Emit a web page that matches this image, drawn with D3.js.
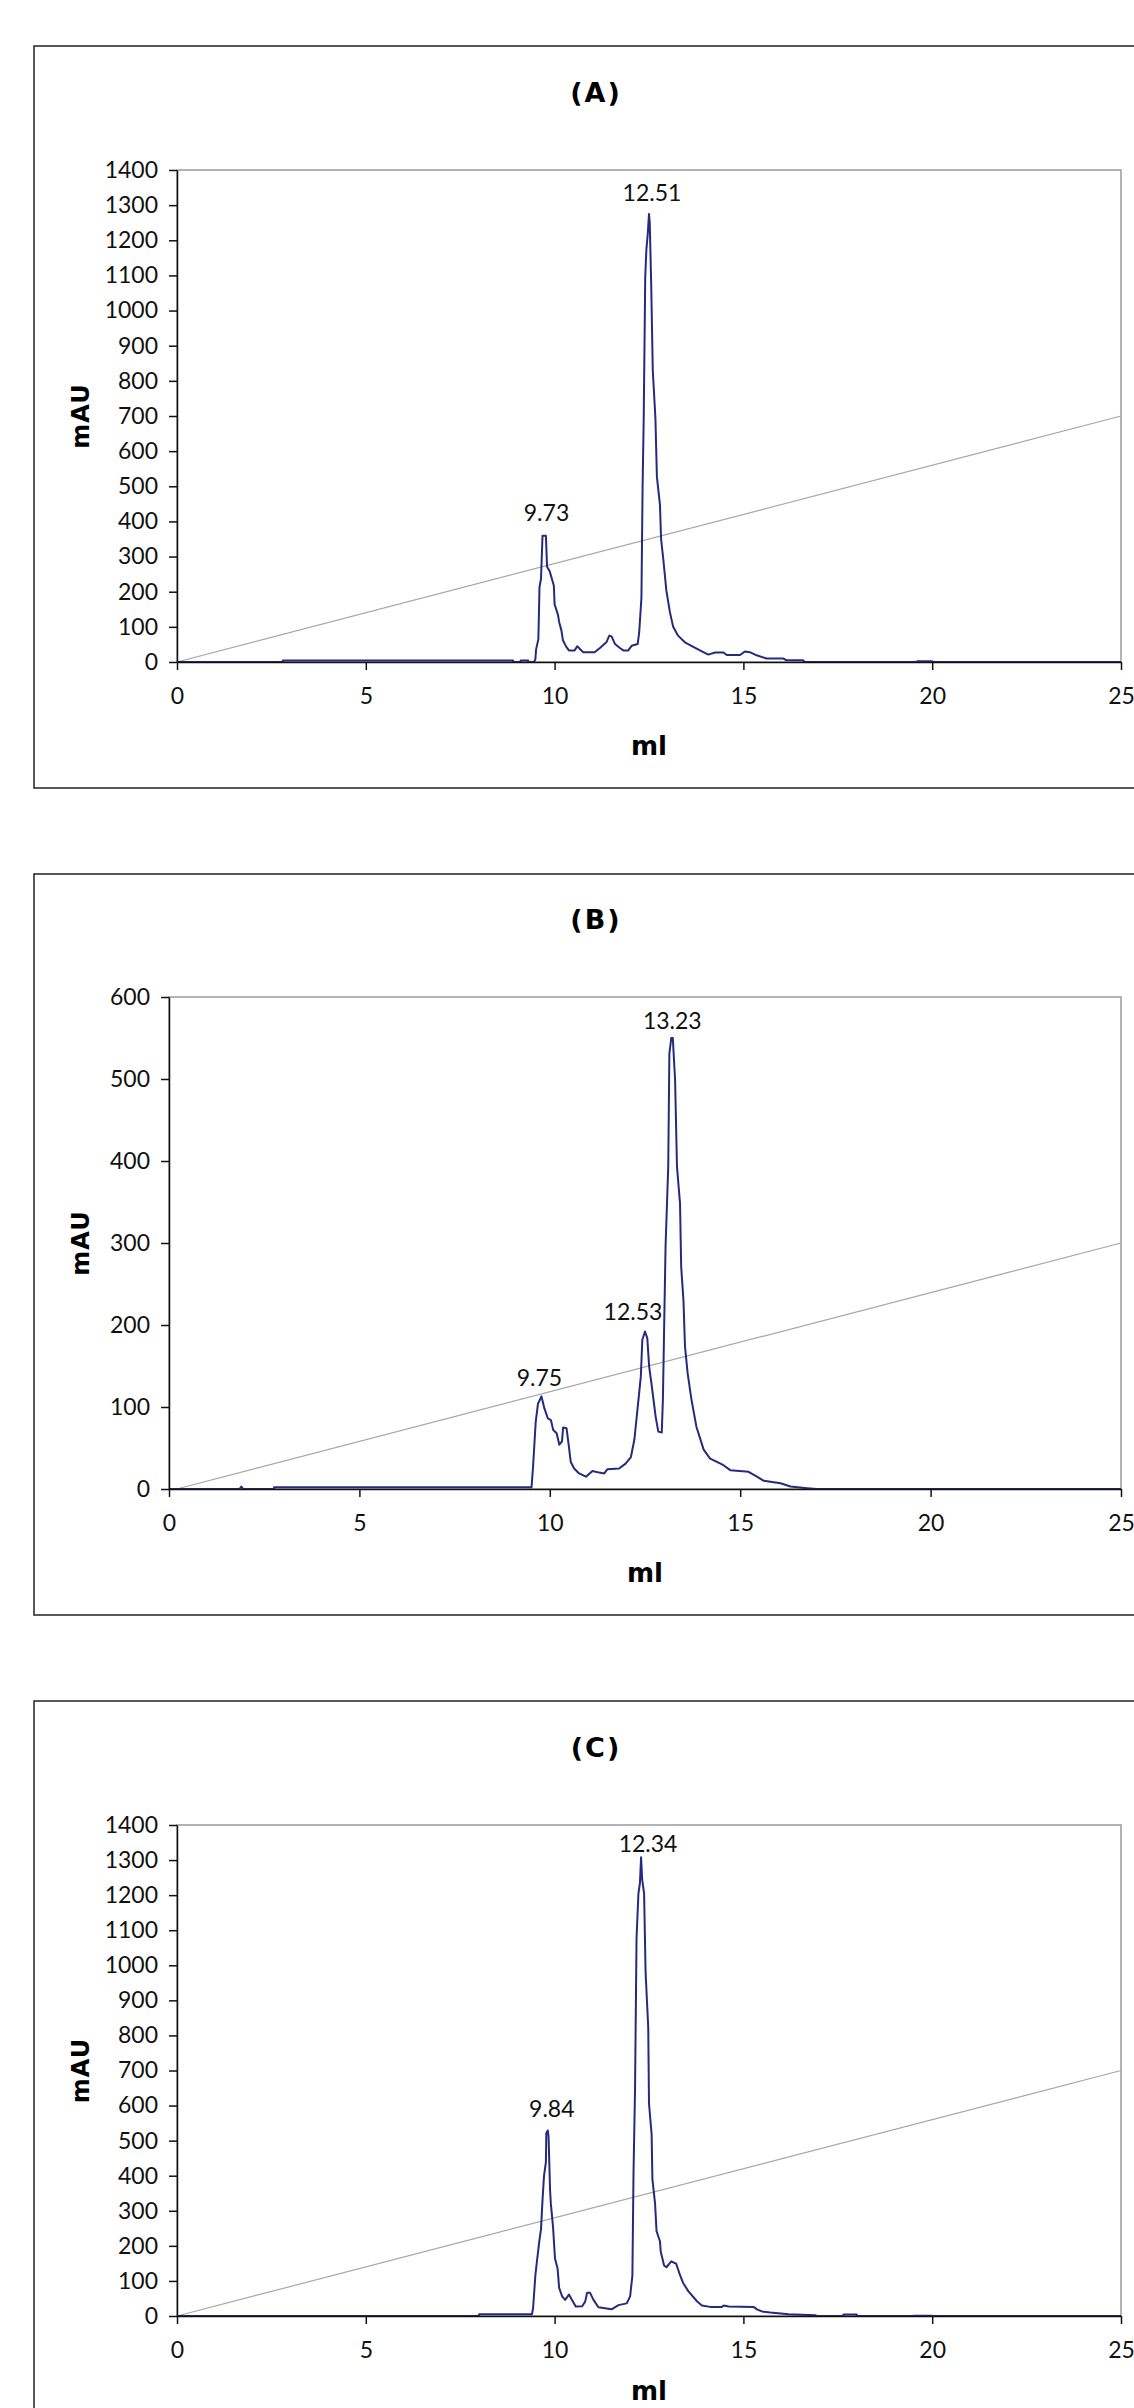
<!DOCTYPE html>
<html>
<head>
<meta charset="utf-8">
<script src="https://cdn.jsdelivr.net/npm/d3@7"></script>
<style>
  html, body { margin: 0; padding: 0; background: #fff; }
  svg { display: block; }
</style>
</head>
<body>
<svg id="chart" width="1134" height="2408"></svg>
<script>
// ---------------- DATA ----------------
const panelTitles = ["(A)", "(B)", "(C)"];
const xTicks = [0, 5, 10, 15, 20, 25];
const yTicksA = [0, 100, 200, 300, 400, 500, 600, 700, 800, 900, 1000, 1100, 1200, 1300, 1400];
const yTicksB = [0, 100, 200, 300, 400, 500, 600];
const yTicksC = [0, 100, 200, 300, 400, 500, 600, 700, 800, 900, 1000, 1100, 1200, 1300, 1400];

// Chromatogram A (ml, mAU)
const volA = [0,2.8,2.8,8.9,8.9,9.1,9.1,9.3,9.3,9.45,9.49,9.51,9.57,9.6,9.64,9.68,9.77,9.8,9.87,9.98,10.0,10.09,10.12,10.18,10.22,10.31,10.38,10.53,10.6,10.67,10.76,11.06,11.2,11.37,11.45,11.51,11.6,11.73,11.82,11.95,12.04,12.2,12.24,12.3,12.33,12.36,12.4,12.43,12.47,12.5,12.52,12.56,12.6,12.67,12.71,12.79,12.82,12.88,12.96,13.05,13.14,13.27,13.45,13.71,13.85,14.07,14.25,14.47,14.56,14.91,15.04,15.17,15.35,15.61,16.05,16.14,16.58,16.62,19.6,19.6,20.0,20.0,25];
const mauA = [0,0,4,4,0,0,4,4,0,0,7,36,65,213,237,359,359,271,258,217,164,134,114,90,62,43,33,33,45,37,28,28,40,56,75,73,51,40,33,33,46,51,84,183,496,693,1094,1173,1222,1275,1250,1065,830,693,526,448,350,291,203,144,100,75,56,41,33,21,27,27,20,20,30,28,19,10,10,5,5,0,0,2,2,0,0];
const gradVolA = [0, 25];
const gradMauA = [0, 700];
const peakLabelsA = ["9.73", "12.51"];

// Chromatogram B
const volB = [0,1.85,1.9,1.95,2.76,2.76,9.52,9.56,9.63,9.69,9.78,9.86,9.95,10.03,10.09,10.18,10.25,10.32,10.35,10.44,10.49,10.55,10.64,10.77,10.95,11.12,11.3,11.43,11.51,11.82,11.99,12.13,12.22,12.3,12.39,12.43,12.5,12.56,12.61,12.68,12.78,12.85,12.94,12.97,13.0,13.04,13.11,13.14,13.19,13.23,13.29,13.34,13.42,13.45,13.51,13.55,13.62,13.72,13.85,14.04,14.21,14.39,14.56,14.74,15.22,15.44,15.62,16.06,16.32,16.76,17.0,25];
const mauB = [0,0,3,0,0,2,2,27,82,104,113,98,86,84,72,68,54,58,75,74,56,33,25,19,15,22,20,19,24,25,31,39,60,96,137,182,192,184,149,125,88,70,69,109,190,296,393,531,550,550,499,393,348,271,230,174,141,109,76,48,37,33,29,23,21,15,10,7,3,1,0,0];
const gradVolB = [0.2, 25];
const gradMauB = [0, 300];
const peakLabelsB = ["9.75", "12.53", "13.23"];

// Chromatogram C
const volC = [0,8.0,8.0,9.4,9.43,9.49,9.53,9.6,9.64,9.68,9.72,9.77,9.78,9.82,9.84,9.88,9.9,9.96,10.01,10.08,10.12,10.2,10.28,10.38,10.45,10.56,10.73,10.81,10.86,10.94,11.03,11.16,11.51,11.69,11.91,12.0,12.06,12.09,12.13,12.17,12.22,12.26,12.29,12.32,12.37,12.41,12.48,12.5,12.57,12.59,12.66,12.7,12.79,12.81,12.9,12.96,13.09,13.22,13.31,13.4,13.54,13.77,13.9,14.12,14.43,14.48,14.61,15.27,15.36,15.49,15.71,16.2,16.9,16.95,17.65,17.65,18.0,18.0,19.5,19.5,20.0,20.0,25];
const mauC = [0,0,5,5,22,115,154,218,247,331,400,439,522,529,512,360,321,252,164,135,80,56,46,61,48,27,28,41,66,66,46,25,19,31,36,56,115,409,645,1077,1205,1234,1308,1244,1205,979,822,606,517,390,321,242,213,184,144,139,156,149,120,95,71,42,30,26,26,30,27,26,19,13,10,5,2,0,0,4,4,0,0,1,1,0,0];
const gradVolC = [0, 25];
const gradMauC = [0, 700];
const peakLabelsC = ["9.84", "12.34"];

// ---------------- LAYOUT / STYLE ----------------
const panels = [
  { title: panelTitles[0], vol: volA, mau: mauA, gv: gradVolA, gm: gradMauA, ticks: yTicksA, labels: peakLabelsA,
    frame: {x: 34, y: 46, h: 742}, plot: {l: 177, r: 1121, t: 170, b: 662},
    labelOff: [[4, 15], [3, 13]] },
  { title: panelTitles[1], vol: volB, mau: mauB, gv: gradVolB, gm: gradMauB, ticks: yTicksB, labels: peakLabelsB,
    frame: {x: 34, y: 874, h: 741}, plot: {l: 169, r: 1121, t: 997, b: 1489},
    labelOff: [[-2, 10], [-12, 12], [1, 9]] },
  { title: panelTitles[2], vol: volC, mau: mauC, gv: gradVolC, gm: gradMauC, ticks: yTicksC, labels: peakLabelsC,
    frame: {x: 34, y: 1701, h: 742}, plot: {l: 177, r: 1121, t: 1825, b: 2316},
    labelOff: [[4, 13], [7, 5]] }
];

const svg = d3.select("#chart");
svg.append("rect").attr("width", 1134).attr("height", 2408).attr("fill", "#fff");

const tickFont = "Lato, 'Open Sans', sans-serif";
const boldFont = "'DejaVu Sans', sans-serif";

panels.forEach(p => {
  // outer frame (extends beyond right edge of page)
  svg.append("rect")
    .attr("x", p.frame.x).attr("y", p.frame.y)
    .attr("width", 1200).attr("height", p.frame.h)
    .attr("fill", "none").attr("stroke", "#222").attr("stroke-width", 1.5);

  const x = d3.scaleLinear().domain([0, 25]).range([p.plot.l, p.plot.r]);
  const ymax = p.ticks[p.ticks.length - 1];
  const y = d3.scaleLinear().domain([0, ymax]).range([p.plot.b, p.plot.t]);

  // plot-area border (gray)
  svg.append("rect")
    .attr("x", p.plot.l).attr("y", p.plot.t)
    .attr("width", p.plot.r - p.plot.l).attr("height", p.plot.b - p.plot.t)
    .attr("fill", "none").attr("stroke", "#9a9a9a").attr("stroke-width", 1.5);

  // gradient line
  const gpts = p.gv.map((v, i) => [v, p.gm[i]]);
  svg.append("path")
    .attr("d", d3.line().x(d => x(d[0])).y(d => y(d[1]))(gpts))
    .attr("fill", "none").attr("stroke", "#a6a6a6").attr("stroke-width", 1.2);

  // chromatogram
  const pts = p.vol.map((v, i) => [v, p.mau[i]]);
  svg.append("path")
    .attr("d", d3.line().x(d => x(d[0])).y(d => y(d[1]))(pts))
    .attr("fill", "none").attr("stroke", "#252a7c").attr("stroke-width", 2)
    .attr("stroke-linejoin", "round");

  // axes
  const yAxis = svg.append("g")
    .attr("transform", `translate(${p.plot.l},0)`)
    .call(d3.axisLeft(y).tickValues(p.ticks).tickSize(8).tickSizeOuter(0).tickPadding(11).tickFormat(d3.format("d")));
  const xAxis = svg.append("g")
    .attr("transform", `translate(0,${p.plot.b})`)
    .call(d3.axisBottom(x).tickValues(xTicks).tickSize(8).tickSizeOuter(0).tickPadding(18).tickFormat(d3.format("d")));
  [yAxis, xAxis].forEach(g => {
    g.selectAll("path.domain").attr("stroke", "#111").attr("stroke-width", 1.5);
    g.selectAll(".tick line").attr("stroke", "#111").attr("stroke-width", 1.5);
    g.selectAll(".tick text").attr("font-family", tickFont).attr("font-size", 23).attr("fill", "#111");
  });

  // peak labels
  p.labels.forEach((lab, i) => {
    const v = parseFloat(lab);
    let best = null;
    pts.forEach(d => { if (Math.abs(d[0] - v) <= 0.3 && (!best || d[1] > best[1])) best = d; });
    const [dx, gap] = p.labelOff[i];
    svg.append("text")
      .attr("x", x(best[0]) + dx).attr("y", y(best[1]) - gap)
      .attr("text-anchor", "middle")
      .attr("font-family", tickFont).attr("font-size", 23).attr("fill", "#111")
      .text(lab);
  });

  // title
  const cx = (p.plot.l + p.plot.r) / 2;
  svg.append("text")
    .attr("x", 596).attr("y", p.plot.t - 68)
    .attr("text-anchor", "middle")
    .attr("font-family", boldFont).attr("font-weight", "bold").attr("font-size", 27)
    .attr("letter-spacing", 2).attr("fill", "#000")
    .text(p.title);

  // axis titles
  svg.append("text")
    .attr("transform", `translate(89,${(p.plot.t + p.plot.b) / 2}) rotate(-90)`)
    .attr("text-anchor", "middle")
    .attr("font-family", boldFont).attr("font-weight", "bold").attr("font-size", 24)
    .attr("letter-spacing", 1).attr("fill", "#000")
    .text("mAU");
  svg.append("text")
    .attr("x", cx).attr("y", Math.min(p.plot.b + 93, 2400))
    .attr("text-anchor", "middle")
    .attr("font-family", boldFont).attr("font-weight", "bold").attr("font-size", 26)
    .attr("fill", "#000")
    .text("ml");
});
</script>
</body>
</html>
